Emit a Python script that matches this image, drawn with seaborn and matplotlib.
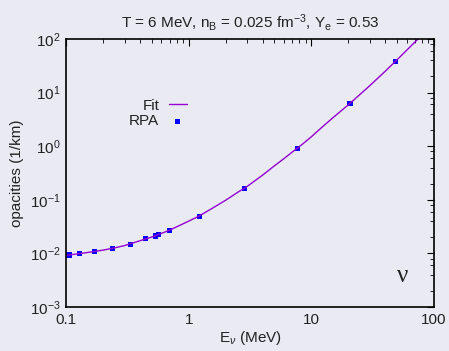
import matplotlib
matplotlib.use("Agg")
import matplotlib.pyplot as plt
import seaborn as sns
import pandas as pd
from matplotlib.ticker import LogLocator, FixedLocator, FixedFormatter, NullFormatter

# RPA data points
rpa_e = [0.102, 0.106, 0.129, 0.170, 0.238, 0.334, 0.443, 0.534, 0.565, 0.695,
         1.22, 2.84, 7.69, 20.7, 48.4]
rpa_op = [0.0093, 0.0093, 0.0100, 0.0109, 0.0124, 0.0148, 0.0188, 0.0211, 0.0227, 0.0270,
          0.0492, 0.164, 0.914, 6.3, 38.4]

# Fit curve
fit_e = [0.1, 0.12, 0.15, 0.2, 0.25, 0.3, 0.4, 0.5, 0.6, 0.7, 0.85, 1.0, 1.2, 1.5, 2.0,
         2.5, 3.0, 4.0, 5.0, 6.0, 7.0, 8.5, 10, 12, 15, 20, 25, 30, 40, 50, 60, 75]
fit_op = [0.0092, 0.0097, 0.0104, 0.0115, 0.0127, 0.0140, 0.0172, 0.0202, 0.0236, 0.0272,
          0.0335, 0.040, 0.049, 0.066, 0.098, 0.137, 0.178, 0.288, 0.43, 0.59, 0.78, 1.1,
          1.5, 2.18, 3.4, 5.9, 9.3, 13.5, 25, 41, 62, 103]

xticks = [0.1, 1, 10, 100]
xtick_labels = ["0.1", "1", "10", "100"]
yticks = [1e-3, 1e-2, 1e-1, 1e0, 1e1, 1e2]
ytick_labels = ["$10^{-3}$", "$10^{-2}$", "$10^{-1}$", "$10^{0}$", "$10^{1}$", "$10^{2}$"]

sns.set_theme(style="dark", rc={"axes.facecolor": "#eaeaf2", "figure.facecolor": "#eaeaf2"})
plt.rcParams["font.family"] = ["Liberation Sans", "DejaVu Sans"]
plt.rcParams["mathtext.fontset"] = "custom"
plt.rcParams["mathtext.rm"] = "Liberation Sans"
plt.rcParams["mathtext.it"] = "Liberation Sans:italic"
plt.rcParams["mathtext.bf"] = "Liberation Sans:bold"

fig = plt.figure(figsize=(4.49, 3.51), dpi=100)
ax = fig.add_axes([66/449, 1 - 307/351, (434-66)/449, (307-39)/351])

fit_df = pd.DataFrame({"E": fit_e, "op": fit_op})
rpa_df = pd.DataFrame({"E": rpa_e, "op": rpa_op})

sns.lineplot(data=fit_df, x="E", y="op", ax=ax, color="#9400d3", lw=1.0, label="Fit")
sns.scatterplot(data=rpa_df, x="E", y="op", ax=ax, color="#0000ff", marker="s", s=14,
                edgecolor="none", label="RPA")

ax.set_xscale("log")
ax.set_yscale("log")
ax.set_xlim(0.1, 100)
ax.set_ylim(1e-3, 1e2)

ax.xaxis.set_major_locator(FixedLocator(xticks))
ax.xaxis.set_major_formatter(FixedFormatter(xtick_labels))
ax.xaxis.set_minor_locator(LogLocator(base=10, subs=range(2, 10)))
ax.xaxis.set_minor_formatter(NullFormatter())
ax.yaxis.set_major_locator(FixedLocator(yticks))
ax.yaxis.set_major_formatter(FixedFormatter(ytick_labels))
ax.yaxis.set_minor_locator(LogLocator(base=10, subs=[2, 4, 6, 8]))
ax.yaxis.set_minor_formatter(NullFormatter())

ax.tick_params(which="both", direction="in", top=True, right=True, color="black",
               labelsize=11, labelcolor="#222222", pad=4)
ax.tick_params(which="major", length=5, width=0.8)
ax.tick_params(which="minor", length=3, width=0.6)
for s in ax.spines.values():
    s.set_color("black")
    s.set_linewidth(1.2)
ax.grid(False)

ax.set_xlabel(r"E$_\nu$ (MeV)", fontsize=11, color="#222222", labelpad=2)
ax.set_ylabel("opacities (1/km)", fontsize=11, color="#222222", labelpad=4)
ax.set_title(r"T = 6 MeV, n$_\mathrm{B}$ = 0.025 fm$^{-3}$, Y$_\mathrm{e}$ = 0.53", fontsize=11,
             color="#222222", pad=8)

leg = ax.legend(loc="upper right", bbox_to_anchor=(0.345, 0.80), frameon=False,
                markerfirst=False, fontsize=11, handlelength=1.2, handletextpad=0.6,
                labelspacing=0.1, borderaxespad=0, markerscale=1.0)
for t in leg.get_texts():
    t.set_ha("right")
    t.set_color("#222222")

ax.text(0.915, 0.115, "ν", transform=ax.transAxes, fontsize=18,
        family=["Liberation Serif", "DejaVu Serif"], color="#222222", ha="center", va="center")

fig.savefig("out.png", dpi=100)
